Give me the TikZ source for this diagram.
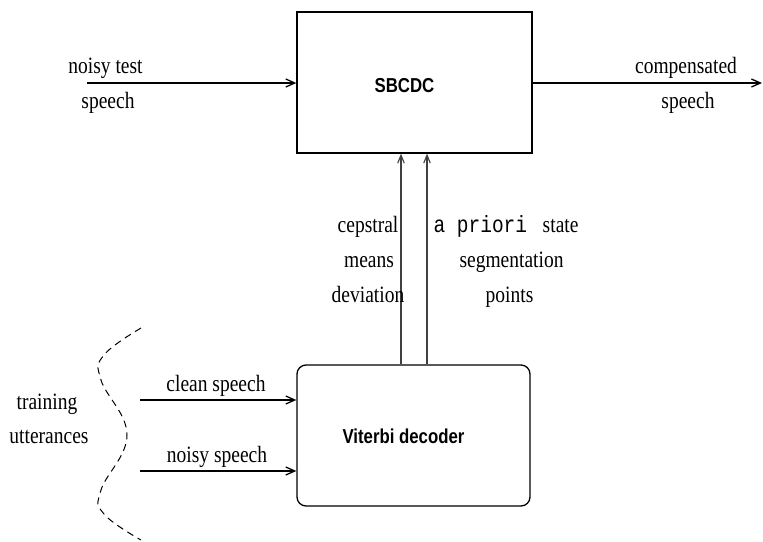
\documentclass[tikz,border=0pt]{standalone}
\usepackage{graphicx}
\usepackage{fontspec}
\setmainfont{Liberation Serif}
\setsansfont{Liberation Sans}
\setmonofont{Liberation Mono}
\usetikzlibrary{arrows.meta}
\newcommand\tallt[1]{\scalebox{1}[1.2]{#1}}
\begin{document}
\begin{tikzpicture}[x=1pt,y=-1pt,
  lbl/.style={inner sep=0pt,anchor=base,font=\fontsize{19.5}{35}\selectfont},
  boxlbl/.style={inner sep=0pt,anchor=base,font=\fontsize{16.8}{20}\selectfont\sffamily\bfseries},
  blk/.style={draw,line width=1.3pt,inner sep=0pt},
  arr/.style={line width=1.3pt,-{Straight Barb[length=9pt,width=8pt]}},
  varr/.style={line width=1.1pt,draw=black!75,-{Straight Barb[length=8pt,width=6.5pt]}}
]
\useasboundingbox (0,0) rectangle (763,541);
% blocks
\node[blk,minimum width=235pt,minimum height=141pt] (sb) at (414.5,82.5) {};
\node[boxlbl] (sbt) at (404.5,92) {\tallt{SBCDC}};
\node[blk,rounded corners=9pt,minimum width=233pt,minimum height=141pt] (vd) at (413.5,435.5) {};
\node[boxlbl] (vdt) at (403.5,443) {\tallt{Viterbi decoder}};
% input / output
\coordinate (in) at (87,83);
\coordinate (out) at (762,83);
\draw[arr] (in) -- (in -| sb.west);
\draw[arr] (sb.east |- out) -- (out);
\node[lbl] (in1) at (105.5,73.5) {\tallt{noisy test}};
\node[lbl] (in2) at (108,108) {\tallt{speech}};
\node[lbl] (out1) at (686,73.5) {\tallt{compensated}};
\node[lbl] (out2) at (688,108) {\tallt{speech}};
% vertical arrows
\coordinate (va) at (401,0);
\coordinate (vb) at (427,0);
\draw[varr] (va |- vd.north) -- (va |- sb.south);
\draw[varr] (vb |- vd.north) -- (vb |- sb.south);
\node[lbl] (c1) at (368,232) {\tallt{cepstral}};
\node[lbl] (c2) at (369,267) {\tallt{means}};
\node[lbl] (c3) at (368,302) {\tallt{deviation}};
\node[lbl] (p1) at (506,232) {\tallt{\texttt{a priori}\hspace{0.8em}state}};
\node[lbl] (p2) at (511.5,267) {\tallt{segmentation}};
\node[lbl] (p3) at (509.5,302) {\tallt{points}};
% training inputs
\coordinate (cs) at (140,400);
\coordinate (ns) at (140,471);
\draw[arr] (cs) -- (cs -| vd.west);
\draw[arr] (ns) -- (ns -| vd.west);
\node[lbl] (cst) at (216,391) {\tallt{clean speech}};
\node[lbl] (nst) at (217,462) {\tallt{noisy speech}};
\node[lbl] (t1) at (47,409) {\tallt{training}};
\node[lbl] (t2) at (49,443) {\tallt{utterances}};
% brace-like dashed curve
\draw[line width=1pt,dash pattern=on 7pt off 5pt] plot[smooth,tension=0.7] coordinates {(141,328) (104,355) (101,380) (127,435) (101,490) (104,514) (141,540)};
\end{tikzpicture}
\end{document}
